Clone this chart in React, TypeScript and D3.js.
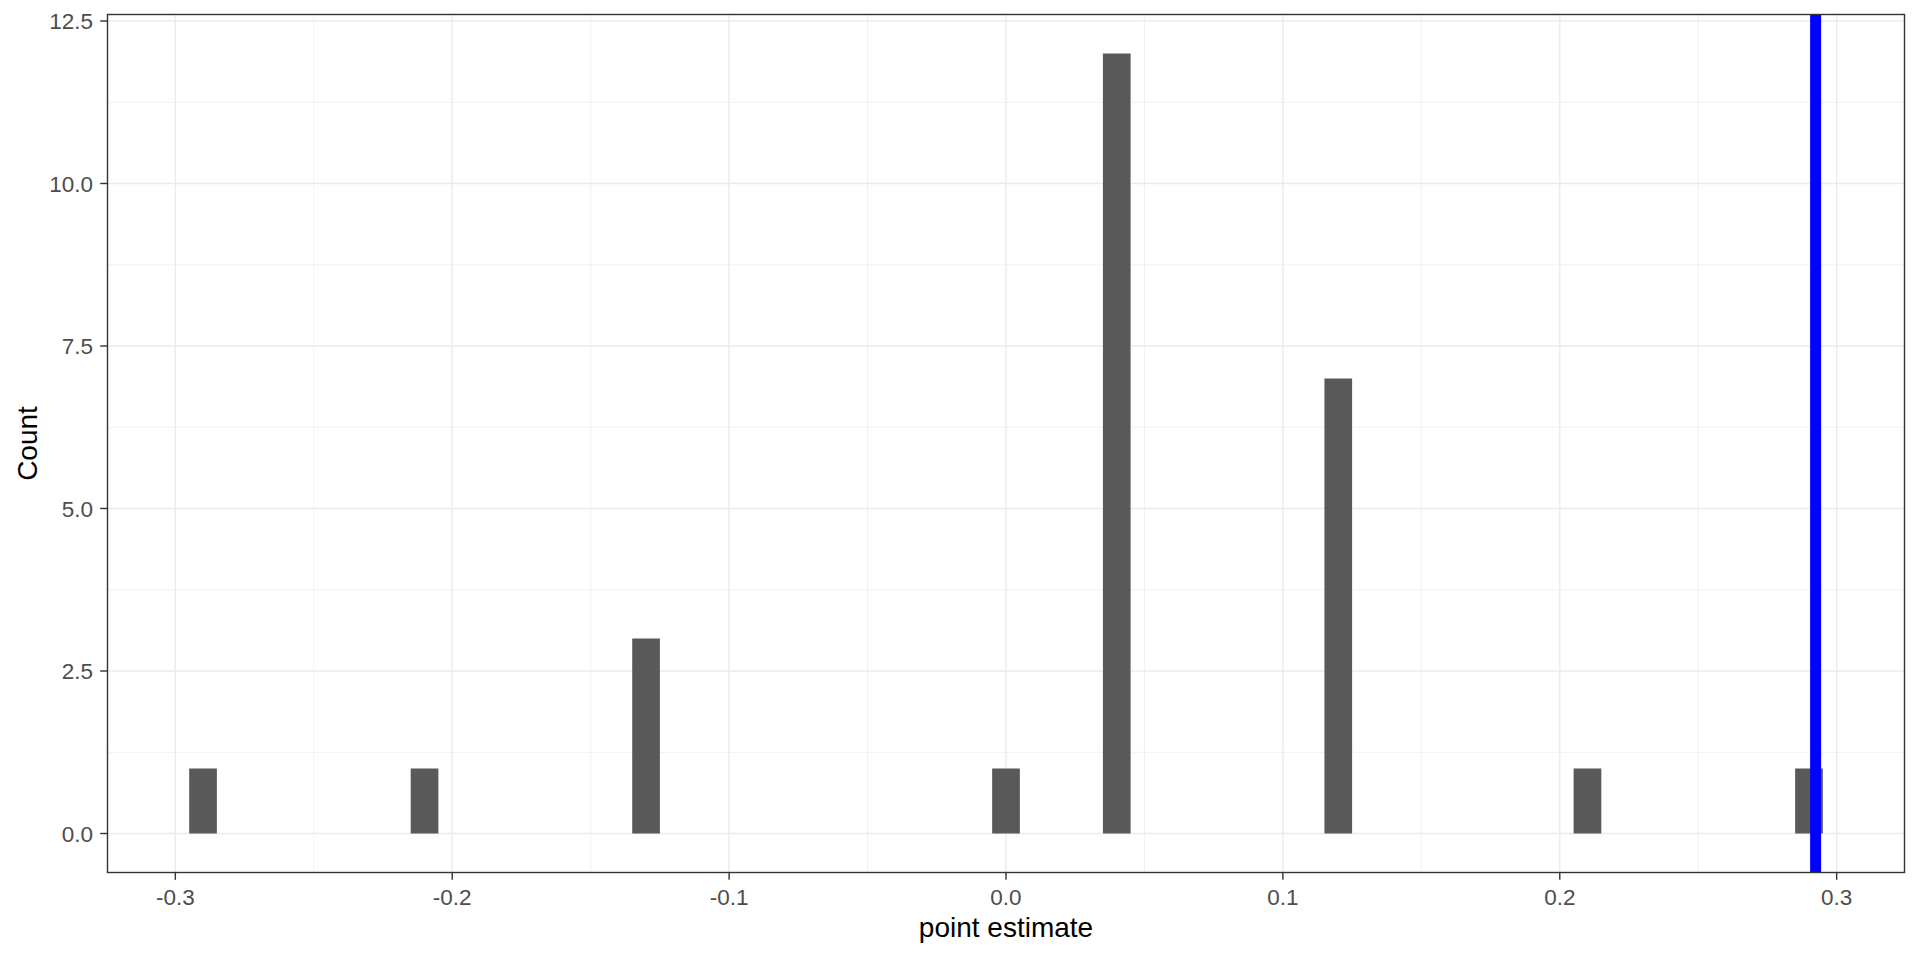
import * as d3 from 'd3';
import * as React from 'react';

// histogram bins (center of each bin) and counts
const binCenters = [-0.29, -0.21, -0.13, 0.0, 0.04, 0.12, 0.21, 0.29];
const binCounts = [1, 1, 3, 1, 12, 7, 1, 1];
const binWidth = 0.01;
const observed = 0.2924;

const xTicks = [-0.3, -0.2, -0.1, 0.0, 0.1, 0.2, 0.3];
const xMinor = [-0.25, -0.15, -0.05, 0.05, 0.15, 0.25];
const yTicks = [0, 2.5, 5, 7.5, 10, 12.5];
const yMinor = [1.25, 3.75, 6.25, 8.75, 11.25];

const width = 1920;
const height = 960;
const panel = { left: 107.5, right: 1904.5, top: 14.5, bottom: 872.5 };
const font = "'Liberation Sans', Arial, sans-serif";

export default function App() {
  const x = React.useMemo(
    () => d3.scaleLinear().domain([-0.3245, 0.3245]).range([panel.left, panel.right]),
    [],
  );
  const y = React.useMemo(
    () => d3.scaleLinear().domain([-0.6, 12.6]).range([panel.bottom, panel.top]),
    [],
  );
  // plain hyphen for negatives, like R does
  const fmt = (v: number) => d3.format('.1f')(v).replace('\u2212', '-');

  return (
    <svg
      width={width}
      height={height}
      style={{ position: 'absolute', left: 0, top: 0, background: '#fff' }}
    >
      {/* minor grid */}
      {xMinor.map((t) => (
        <line key={'xm' + t} x1={x(t)} x2={x(t)} y1={panel.top} y2={panel.bottom} stroke="#EBEBEB" strokeWidth={0.7} />
      ))}
      {yMinor.map((t) => (
        <line key={'ym' + t} x1={panel.left} x2={panel.right} y1={y(t)} y2={y(t)} stroke="#EBEBEB" strokeWidth={0.7} />
      ))}
      {/* major grid */}
      {xTicks.map((t) => (
        <line key={'xg' + t} x1={x(t)} x2={x(t)} y1={panel.top} y2={panel.bottom} stroke="#EBEBEB" strokeWidth={1.4} />
      ))}
      {yTicks.map((t) => (
        <line key={'yg' + t} x1={panel.left} x2={panel.right} y1={y(t)} y2={y(t)} stroke="#EBEBEB" strokeWidth={1.4} />
      ))}

      {/* bars */}
      {binCenters.map((c, i) => (
        <rect
          key={i}
          x={x(c - binWidth / 2)}
          width={x(c + binWidth / 2) - x(c - binWidth / 2)}
          y={y(binCounts[i])}
          height={y(0) - y(binCounts[i])}
          fill="#595959"
        />
      ))}

      {/* observed value */}
      <line x1={x(observed)} x2={x(observed)} y1={panel.top} y2={panel.bottom} stroke="#0000FF" strokeWidth={11} />

      {/* panel border */}
      <rect
        x={panel.left}
        y={panel.top}
        width={panel.right - panel.left}
        height={panel.bottom - panel.top}
        fill="none"
        stroke="#333333"
        strokeWidth={1.4}
      />

      {/* x axis */}
      {xTicks.map((t) => (
        <g key={'xt' + t}>
          <line x1={x(t)} x2={x(t)} y1={panel.bottom} y2={panel.bottom + 7.3} stroke="#333333" strokeWidth={1.4} />
          <text x={x(t)} y={905} textAnchor="middle" fontFamily={font} fontSize={22.5} fill="#4D4D4D">
            {fmt(t)}
          </text>
        </g>
      ))}
      {/* y axis */}
      {yTicks.map((t) => (
        <g key={'yt' + t}>
          <line x1={panel.left - 7.3} x2={panel.left} y1={y(t)} y2={y(t)} stroke="#333333" strokeWidth={1.4} />
          <text
            x={93}
            y={y(t)}
            dy="0.36em"
            textAnchor="end"
            fontFamily={font}
            fontSize={22.5}
            fill="#4D4D4D"
          >
            {fmt(t)}
          </text>
        </g>
      ))}

      {/* titles */}
      <text x={(panel.left + panel.right) / 2} y={937} textAnchor="middle" fontFamily={font} fontSize={28} fill="#000">
        point estimate
      </text>
      <text
        transform={`translate(37, ${(panel.top + panel.bottom) / 2}) rotate(-90)`}
        textAnchor="middle"
        fontFamily={font}
        fontSize={28}
        fill="#000"
      >
        Count
      </text>
    </svg>
  );
}
